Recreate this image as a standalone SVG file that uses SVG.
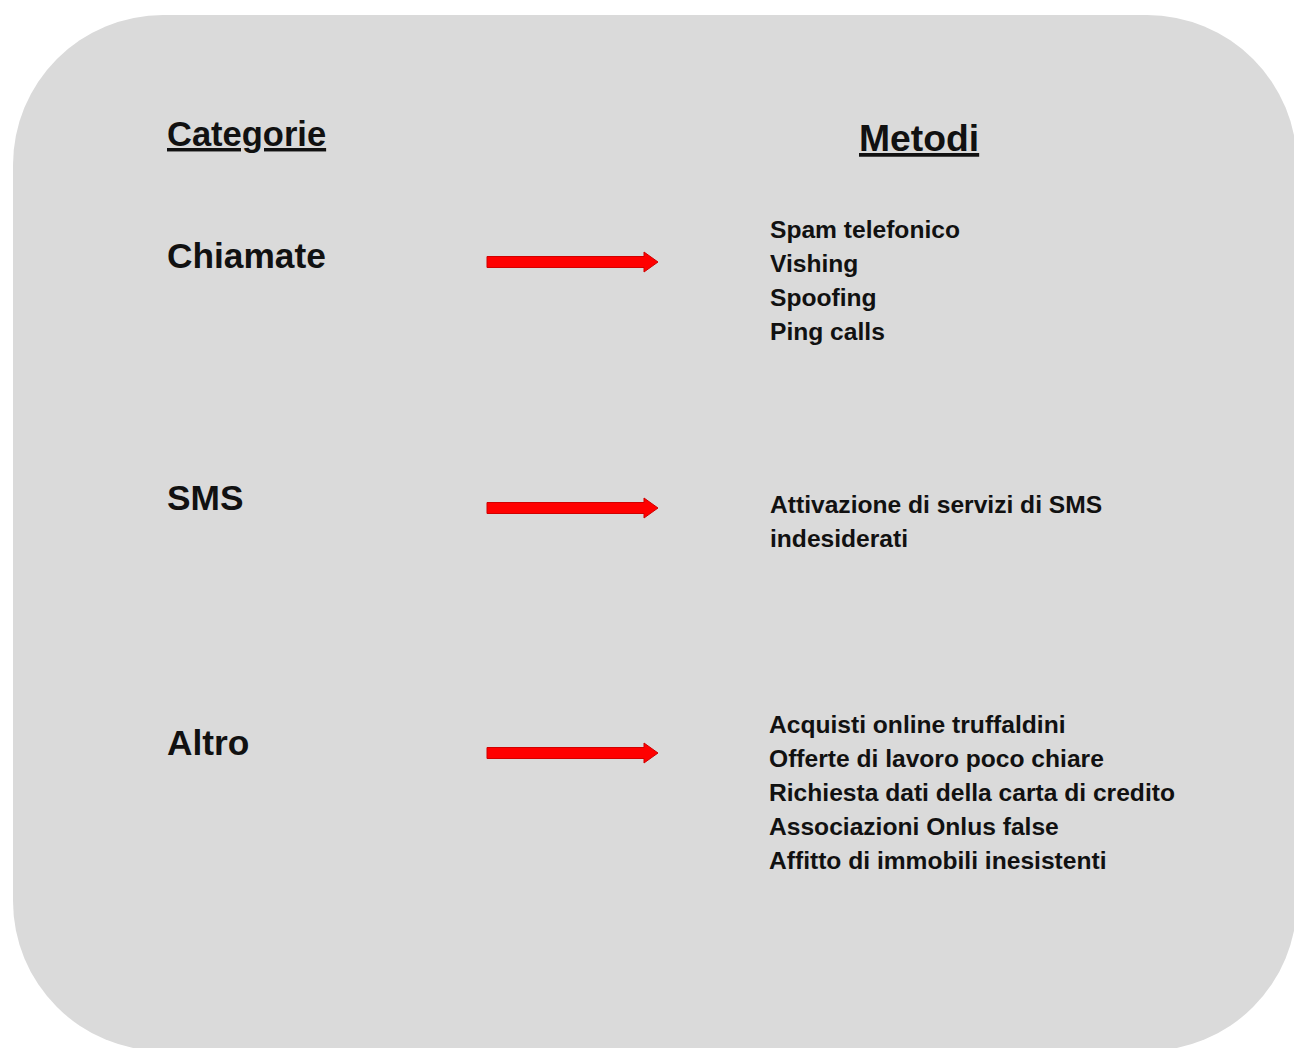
<svg xmlns="http://www.w3.org/2000/svg" width="1294" height="1048" viewBox="0 0 1294 1048">
<defs>
<style>
.h{font-family:"Liberation Sans",Arial,sans-serif;font-weight:bold;fill:#111;text-decoration:underline}
.c{font-family:"Liberation Sans",Arial,sans-serif;font-weight:bold;font-size:35.3px;fill:#111}
.m{font-family:"Liberation Sans",Arial,sans-serif;font-weight:bold;font-size:24.6px;fill:#111}
.arr{fill:#ff0000;stroke:#d00000;stroke-width:1}
</style>
<polygon id="arrowShape" points="487,-5.5 644,-5.5 644,-10 658,0 644,10 644,5.5 487,5.5"/>
</defs>
<rect width="1294" height="1048" fill="#ffffff"/>
<g id="panel">
<rect x="13" y="15" width="1284" height="1036" rx="150" ry="150" fill="#dadada"/>
</g>
<g id="headers">
<text class="h" x="167" y="146" font-size="34.5px">Categorie</text>
<text class="h" x="859" y="151" font-size="37.3px">Metodi</text>
</g>
<g id="node-chiamate">
<text class="c" x="167" y="268">Chiamate</text>
</g>
<g id="node-sms">
<text class="c" x="167" y="510">SMS</text>
</g>
<g id="node-altro">
<text class="c" x="167" y="755">Altro</text>
</g>
<g id="connectors">
<use href="#arrowShape" class="arr" y="262"/>
<use href="#arrowShape" class="arr" y="508"/>
<use href="#arrowShape" class="arr" y="753"/>
</g>
<g id="methods-chiamate">
<text class="m" x="770" y="238">Spam telefonico</text>
<text class="m" x="770" y="272">Vishing</text>
<text class="m" x="770" y="306">Spoofing</text>
<text class="m" x="770" y="340">Ping calls</text>
</g>
<g id="methods-sms">
<text class="m" x="770" y="513">Attivazione di servizi di SMS</text>
<text class="m" x="770" y="547">indesiderati</text>
</g>
<g id="methods-altro">
<text class="m" x="769" y="733">Acquisti online truffaldini</text>
<text class="m" x="769" y="767">Offerte di lavoro poco chiare</text>
<text class="m" x="769" y="801">Richiesta dati della carta di credito</text>
<text class="m" x="769" y="835">Associazioni Onlus false</text>
<text class="m" x="769" y="869">Affitto di immobili inesistenti</text>
</g>
</svg>
